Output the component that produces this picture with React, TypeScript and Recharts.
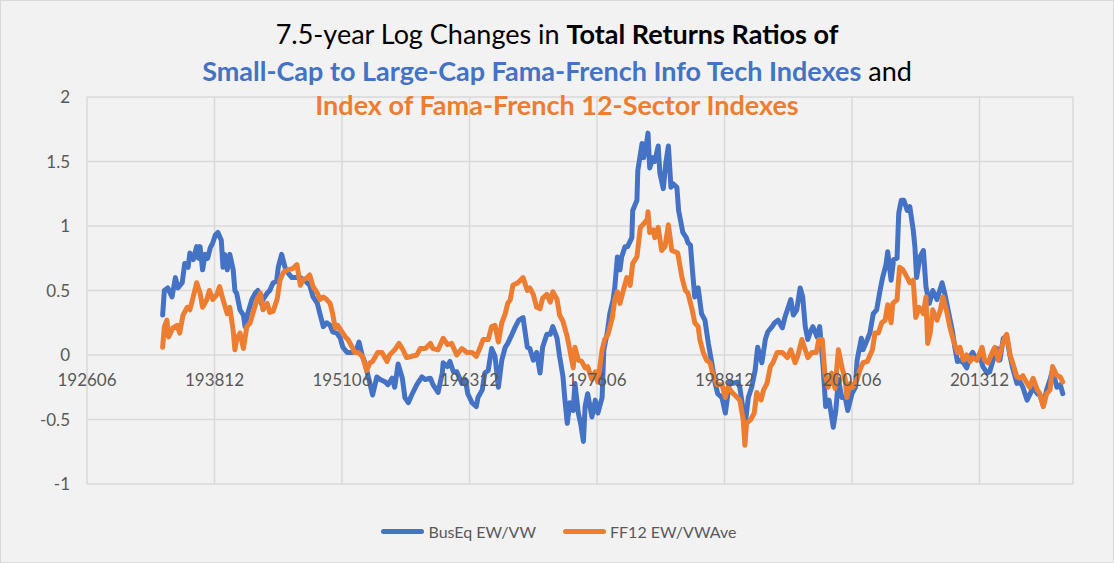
import React from 'react';
import { LineChart, Line, XAxis, YAxis, CartesianGrid } from 'recharts';

// Months are counted from 1926/06 (month 0)
const START_YEAR = 1926;
const START_MONTH = 6;

const xTickMonths = [0, 150, 300, 450, 600, 750, 900, 1050, 1160];
const yTicks = [-1, -0.5, 0, 0.5, 1, 1.5, 2];

const busEqMonths = [89,91,95,100,104,107,112,115,119,121,125,129,131,133,136,139,142,145,148,151,154,158,160,162,165,168,172,174,176,180,184,186,189,194,198,201,205,207,212,215,219,223,225,229,233,236,241,245,251,256,262,266,271,274,278,282,286,289,294,298,301,306,312,318,320,324,327,331,336,341,345,351,354,359,362,366,371,374,378,382,388,394,398,404,407,413,418,419,424,427,431,435,441,445,448,453,458,460,465,468,472,476,480,484,488,492,495,500,504,508,513,518,521,525,529,533,536,541,545,548,553,556,560,562,565,568,572,574,578,581,584,586,589,594,598,601,606,608,612,615,619,621,624,627,629,633,636,641,642,647,648,653,655,659,660,662,666,668,672,674,678,681,684,687,689,694,696,701,705,707,710,712,715,719,723,727,731,735,739,742,747,751,753,756,760,765,768,772,775,778,782,786,789,794,798,801,806,809,813,818,821,825,828,831,835,839,842,845,848,851,854,859,862,866,869,873,878,881,884,888,892,895,900,904,906,911,913,918,921,925,929,933,936,940,942,946,949,953,955,958,961,965,968,972,974,976,980,984,987,991,995,1000,1006,1009,1013,1018,1021,1024,1027,1031,1035,1039,1042,1047,1051,1054,1059,1062,1066,1071,1074,1078,1082,1086,1089,1094,1098,1101,1106,1109,1113,1118,1121,1125,1129,1133,1136,1141,1145,1148];
const busEqValues = [0.31,0.50,0.52,0.45,0.60,0.52,0.56,0.71,0.68,0.79,0.74,0.84,0.75,0.84,0.66,0.78,0.75,0.83,0.87,0.93,0.95,0.89,0.68,0.78,0.66,0.78,0.66,0.50,0.48,0.35,0.31,0.22,0.32,0.43,0.48,0.50,0.40,0.43,0.48,0.50,0.56,0.57,0.68,0.78,0.68,0.64,0.60,0.60,0.60,0.58,0.54,0.45,0.40,0.32,0.22,0.25,0.23,0.18,0.17,0.13,0.06,0.02,0.02,0.06,0.10,-0.01,-0.06,-0.17,-0.31,-0.17,-0.19,-0.21,-0.23,-0.18,-0.25,-0.07,-0.18,-0.33,-0.37,-0.31,-0.23,-0.17,-0.19,-0.18,-0.23,-0.29,-0.14,-0.06,-0.09,-0.05,-0.13,-0.13,-0.22,-0.19,-0.30,-0.37,-0.40,-0.33,-0.27,-0.14,-0.12,0.05,-0.01,-0.25,-0.04,0.06,0.09,0.16,0.22,0.27,0.29,0.06,0.05,-0.04,0.02,-0.14,0.06,0.16,0.16,0.22,0.13,-0.01,-0.17,-0.33,-0.53,-0.37,-0.43,-0.22,-0.45,-0.54,-0.67,-0.40,-0.30,-0.48,-0.35,-0.45,-0.33,0.04,0.17,0.32,0.43,0.53,0.76,0.66,0.76,0.84,0.84,0.91,1.12,1.20,1.43,1.64,1.53,1.67,1.72,1.45,1.53,1.50,1.62,1.41,1.29,1.49,1.62,1.30,1.33,1.30,1.12,0.95,0.91,0.87,0.85,0.68,0.45,0.52,0.32,0.27,0.09,-0.06,-0.22,-0.30,-0.33,-0.45,-0.35,-0.21,-0.22,-0.21,-0.25,-0.43,-0.50,-0.33,-0.25,-0.12,0.06,-0.06,0.12,0.18,0.22,0.25,0.27,0.21,0.29,0.37,0.43,0.31,0.35,0.52,0.45,0.22,0.12,0.18,0.22,0.14,0.22,-0.09,-0.40,-0.35,-0.56,-0.43,-0.19,-0.33,-0.33,-0.43,-0.30,-0.25,-0.04,0.13,0.04,0.12,0.17,0.32,0.35,0.50,0.60,0.70,0.80,0.58,0.74,0.75,1.10,1.20,1.20,1.12,1.15,0.97,0.84,0.60,0.76,0.81,0.53,0.40,0.50,0.43,0.56,0.48,0.35,0.19,0.06,-0.05,-0.04,-0.06,-0.10,-0.01,0.02,-0.04,-0.02,-0.09,-0.14,-0.13,-0.04,0.05,-0.04,0.13,0.14,-0.01,-0.10,-0.22,-0.21,-0.25,-0.35,-0.31,-0.25,-0.30,-0.31,-0.39,-0.27,-0.19,-0.12,-0.25,-0.23,-0.30];

const ff12Months = [89,91,94,96,101,106,109,113,118,121,125,129,133,136,141,144,148,153,156,160,165,168,172,174,176,180,184,188,192,195,200,204,207,212,215,219,224,227,231,236,242,247,251,254,259,262,266,271,274,278,282,286,289,292,295,300,304,307,312,315,319,324,329,333,336,342,347,353,356,362,367,371,376,382,388,392,398,404,407,413,419,424,429,435,441,447,453,458,462,466,472,476,480,484,488,492,495,498,501,507,513,518,521,525,529,533,536,541,545,548,553,556,560,565,568,572,574,578,582,586,589,594,598,601,606,609,613,618,621,624,627,631,635,639,642,647,651,654,659,660,662,666,668,672,676,680,684,688,692,695,700,704,707,712,715,719,721,725,729,733,736,741,747,751,754,759,765,768,772,774,776,781,785,788,793,796,800,804,807,812,818,824,828,833,836,841,845,848,853,858,861,865,868,872,876,880,884,888,892,894,898,901,906,909,913,918,924,927,931,935,939,942,946,948,953,956,960,965,968,972,975,979,984,987,989,992,995,1000,1004,1007,1012,1015,1019,1024,1027,1031,1035,1039,1042,1047,1053,1056,1060,1065,1068,1072,1076,1080,1082,1086,1089,1094,1098,1101,1106,1109,1113,1118,1121,1125,1129,1133,1136,1141,1145,1148];
const ff12Values = [0.06,0.22,0.27,0.14,0.21,0.23,0.17,0.31,0.37,0.35,0.45,0.56,0.48,0.37,0.43,0.50,0.43,0.47,0.53,0.43,0.32,0.37,0.19,0.04,0.12,0.17,0.05,0.22,0.25,0.32,0.43,0.48,0.35,0.40,0.33,0.34,0.44,0.58,0.64,0.66,0.67,0.70,0.54,0.58,0.60,0.62,0.53,0.48,0.43,0.45,0.43,0.40,0.32,0.21,0.23,0.18,0.14,0.12,0.06,0.02,0.02,-0.01,-0.12,-0.06,-0.05,0.02,0.02,-0.05,0.00,0.04,0.09,0.05,-0.02,-0.01,0.00,0.05,0.05,0.09,0.05,0.04,0.13,0.08,0.09,0.00,0.05,0.02,0.02,-0.01,0.05,0.12,0.12,0.22,0.23,0.10,0.25,0.32,0.40,0.43,0.54,0.56,0.60,0.50,0.52,0.47,0.37,0.36,0.44,0.47,0.41,0.49,0.43,0.31,0.26,0.14,0.04,-0.10,0.06,-0.04,-0.05,-0.10,-0.09,-0.19,-0.13,-0.21,0.04,0.12,0.16,0.29,0.43,0.49,0.40,0.50,0.60,0.54,0.71,0.76,0.99,1.01,1.05,1.11,0.95,0.97,0.91,0.99,0.81,0.84,1.01,0.81,0.80,0.79,0.60,0.50,0.48,0.35,0.25,0.22,0.12,0.02,-0.04,-0.06,-0.14,-0.23,-0.23,-0.33,-0.25,-0.29,-0.33,-0.35,-0.50,-0.70,-0.53,-0.50,-0.45,-0.29,-0.35,-0.27,-0.22,-0.09,-0.06,0.02,0.02,-0.02,0.04,-0.06,-0.01,0.12,0.04,-0.02,0.02,0.02,0.12,0.12,-0.14,-0.25,-0.14,-0.26,0.04,-0.09,-0.19,-0.33,-0.22,-0.25,-0.19,-0.12,-0.06,-0.05,0.04,0.17,0.17,0.25,0.27,0.39,0.25,0.40,0.43,0.68,0.66,0.60,0.56,0.58,0.29,0.37,0.32,0.45,0.09,0.17,0.35,0.27,0.35,0.45,0.32,0.22,0.12,0.02,0.06,-0.04,0.00,-0.05,-0.02,-0.04,0.06,-0.04,-0.06,0.02,0.06,-0.04,0.06,0.14,0.16,0.00,-0.06,-0.17,-0.18,-0.16,-0.22,-0.25,-0.18,-0.27,-0.30,-0.40,-0.30,-0.27,-0.09,-0.16,-0.17,-0.21];

const seriesNames = ['BusEq EW/VW', 'FF12 EW/VWAve'];
const seriesColors = ['#4472C4', '#ED7D31'];

const titleLine1 = ['7.5-year Log Changes in ', 'Total Returns Ratios of'];
const titleLine2 = ['Small-Cap to Large-Cap Fama-French Info Tech Indexes', ' and'];
const titleLine3 = 'Index of Fama-French 12-Sector Indexes';

const busData = busEqMonths.map((m, i) => ({ m, v: busEqValues[i] }));
const ffData = ff12Months.map((m, i) => ({ m, v: ff12Values[i] }));

const W = 1114;
const H = 563;
const FONT = 'Lato, "Open Sans", sans-serif';
const AXIS_COLOR = '#595959';
const GRID_COLOR = '#d9d9d9';
const X_AXIS_H = 30;
const MARGIN = { top: 97, right: 41, bottom: 79 - X_AXIS_H, left: 0 };
const Y_AXIS_W = 87;
const Y_MIN = -1;
const Y_MAX = 2;
const PLOT_H = H - MARGIN.top - MARGIN.bottom - X_AXIS_H;
const ZERO_Y = MARGIN.top + ((Y_MAX - 0) / (Y_MAX - Y_MIN)) * PLOT_H;

function monthLabel(m: number): string {
  if (m > 1150) return '';
  const total = START_MONTH - 1 + m;
  const y = START_YEAR + Math.floor(total / 12);
  const mo = (total % 12) + 1;
  return `${y}${mo < 10 ? '0' + mo : mo}`;
}

const renderXTick = (props: any) => {
  const { x, payload } = props;
  const label = monthLabel(payload.value);
  return (
    <text x={x} y={ZERO_Y + 31} textAnchor="middle" fill={AXIS_COLOR} fontSize={17} fontFamily={FONT}>
      {label}
    </text>
  );
};

export default function App() {
  return (
    <div
      style={{
        position: 'absolute',
        left: 0,
        top: 0,
        width: W,
        height: H,
        background: '#f2f2f2',
        border: '1px solid #d9d9d9',
        boxSizing: 'border-box',
        overflow: 'hidden',
      }}
    >
      <div style={{ position: 'absolute', left: -1, top: -1 }}>
        <LineChart width={W} height={H} margin={MARGIN}>
          <CartesianGrid stroke={GRID_COLOR} strokeWidth={1.5} />
          <XAxis
            type="number"
            dataKey="m"
            domain={[0, 1160]}
            ticks={xTickMonths}
            interval={0}
            height={X_AXIS_H}
            axisLine={false}
            tickLine={false}
            tick={renderXTick}
            allowDataOverflow
          />
          <YAxis
            type="number"
            domain={[Y_MIN, Y_MAX]}
            ticks={yTicks}
            width={Y_AXIS_W}
            axisLine={false}
            tickLine={false}
            tickSize={0}
            tickMargin={17}
            tick={{ fill: AXIS_COLOR, fontSize: 17, fontFamily: FONT }}
            interval={0}
          />
          <Line
            data={busData}
            dataKey="v"
            name={seriesNames[0]}
            type="linear"
            stroke={seriesColors[0]}
            strokeWidth={5}
            strokeLinejoin="round"
            strokeLinecap="round"
            dot={false}
            activeDot={false}
            isAnimationActive={false}
          />
          <Line
            data={ffData}
            dataKey="v"
            name={seriesNames[1]}
            type="linear"
            stroke={seriesColors[1]}
            strokeWidth={5}
            strokeLinejoin="round"
            strokeLinecap="round"
            dot={false}
            activeDot={false}
            isAnimationActive={false}
          />
        </LineChart>
      </div>
      <svg width={W} height={H} style={{ position: 'absolute', left: -1, top: -1, pointerEvents: 'none' }}>
        <text x={W / 2} y={44} textAnchor="middle" fontFamily={FONT} fontSize={27} fill="#000">
          <tspan>{titleLine1[0]}</tspan>
          <tspan fontWeight={700}>{titleLine1[1]}</tspan>
        </text>
        <text x={W / 2} y={81} textAnchor="middle" fontFamily={FONT} fontSize={27}>
          <tspan fontWeight={700} fill={seriesColors[0]}>{titleLine2[0]}</tspan>
          <tspan fill="#000">{titleLine2[1]}</tspan>
        </text>
        <text x={W / 2} y={115} textAnchor="middle" fontFamily={FONT} fontSize={27} fontWeight={700} fill={seriesColors[1]}>
          {titleLine3}
        </text>
      </svg>
      <div
        style={{
          position: 'absolute',
          left: 0,
          top: 521,
          width: W,
          display: 'flex',
          justifyContent: 'center',
          alignItems: 'center',
          gap: 27,
          fontFamily: FONT,
          fontSize: 16,
          color: AXIS_COLOR,
          paddingLeft: 2,
          boxSizing: 'border-box',
        }}
      >
        {seriesNames.map((n, i) => (
          <div key={n} style={{ display: 'flex', alignItems: 'center' }}>
            <div style={{ width: 43, height: 5, borderRadius: 3, background: seriesColors[i], marginRight: 4 }} />
            <span>{n}</span>
          </div>
        ))}
      </div>
    </div>
  );
}
